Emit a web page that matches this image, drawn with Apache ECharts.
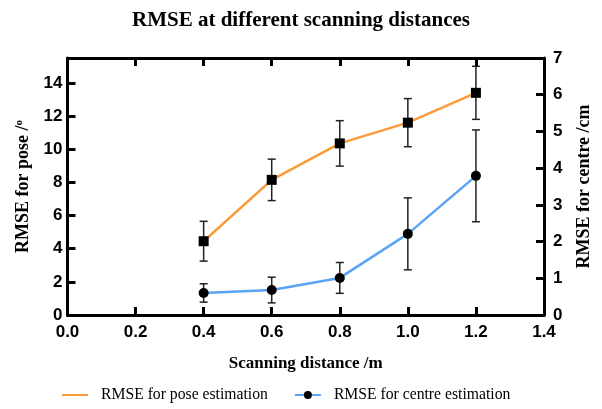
<!DOCTYPE html>
<html><head><meta charset="utf-8">
<script src="https://cdn.jsdelivr.net/npm/echarts@6/dist/echarts.min.js"></script>
<style>html,body{margin:0;padding:0;background:#fff}#c{width:602px;height:409px}</style>
</head><body><div id="c"></div>
<script>
const distances = [0.4, 0.6, 0.8, 1.0, 1.2];
const poseRMSE = [4.45, 8.15, 10.35, 11.6, 13.4];
const poseErr = [1.2, 1.25, 1.37, 1.45, 1.6];
const centreRMSE = [0.6, 0.68, 1.01, 2.21, 3.79];
const centreErr = [0.25, 0.35, 0.42, 0.98, 1.25];
const xTicks = [0.0, 0.2, 0.4, 0.6, 0.8, 1.0, 1.2, 1.4];
const poseName = 'RMSE for pose estimation';
const centreName = 'RMSE for centre estimation';

const chart = echarts.init(document.getElementById('c'), null, {renderer: 'canvas'});
const sans = 'Liberation Sans';
const serif = 'Liberation Serif';
const mkLine = () => ({show: true, onZero: false, lineStyle: {color: '#000', width: 3}});
const mkTick = () => ({show: true, inside: true, length: 8, lineStyle: {color: '#000', width: 3}});
const labelStyle = () => ({color: '#000', fontFamily: sans, fontWeight: 'bold', fontSize: 17});

function errRender(params, api) {
  const x = api.value(0), lo = api.value(1), hi = api.value(2);
  const pLo = api.coord([x, lo]);
  const pHi = api.coord([x, hi]);
  const cap = 4;
  const style = {stroke: '#222', lineWidth: 1.5};
  return {type: 'group', children: [
    {type: 'line', shape: {x1: pLo[0], y1: pLo[1], x2: pHi[0], y2: pHi[1]}, style},
    {type: 'line', shape: {x1: pLo[0]-cap, y1: pLo[1], x2: pLo[0]+cap, y2: pLo[1]}, style},
    {type: 'line', shape: {x1: pHi[0]-cap, y1: pHi[1], x2: pHi[0]+cap, y2: pHi[1]}, style}
  ]};
}

chart.setOption({
  animation: false,
  backgroundColor: '#fff',
  title: {
    text: 'RMSE at different scanning distances',
    left: 'center', top: 5,
    textStyle: {fontFamily: serif, fontWeight: 'bold', fontSize: 21, color: '#000'}
  },
  legend: {
    bottom: 1, left: 56,
    itemWidth: 26, itemHeight: 10, itemGap: 26,
    textStyle: {fontFamily: serif, fontSize: 15.7, color: '#000', padding: [0, 0, 0, 8]},
    data: [
      {name: poseName, itemStyle: {opacity: 0}},
      {name: centreName}
    ]
  },
  grid: {left: 67.5, right: 58, top: 58, bottom: 94},
  xAxis: [
    {type: 'value', position: 'bottom', min: 0, max: 1.4, interval: 0.2,
     axisLine: mkLine(), axisTick: mkTick(), splitLine: {show: false},
     axisLabel: Object.assign({margin: 9, formatter: v => v.toFixed(1)}, labelStyle()),
     name: 'Scanning distance /m', nameLocation: 'middle', nameGap: 40,
     nameTextStyle: {fontFamily: serif, fontWeight: 'bold', fontSize: 17, color: '#000'}},
    {type: 'value', position: 'top', min: 0, max: 1.4, interval: 0.2,
     axisLine: mkLine(), axisTick: mkTick(), splitLine: {show: false}, axisLabel: {show: false}}
  ],
  yAxis: [
    {type: 'value', position: 'left', min: 0, max: 15.5, interval: 2,
     axisLine: mkLine(), axisTick: mkTick(), splitLine: {show: false},
     axisLabel: Object.assign({margin: 5, showMaxLabel: false}, labelStyle()),
     name: 'RMSE for pose /{s|o}', nameLocation: 'middle', nameGap: 35, nameRotate: 90,
     nameTextStyle: {fontFamily: serif, fontWeight: 'bold', fontSize: 18, color: '#000',
       rich: {s: {fontFamily: serif, fontSize: 11, color: '#000', verticalAlign: 'top', padding: [0,0,8,0]}}}},
    {type: 'value', position: 'right', min: 0, max: 7, interval: 1,
     axisLine: mkLine(), axisTick: mkTick(), splitLine: {show: false},
     axisLabel: Object.assign({margin: 9}, labelStyle()),
     name: 'RMSE for centre /cm', nameLocation: 'middle', nameGap: 31, nameRotate: 90,
     nameTextStyle: {fontFamily: serif, fontWeight: 'bold', fontSize: 18, color: '#000'}}
  ],
  series: [
    {type: 'custom', name: 'poseErr', xAxisIndex: 0, yAxisIndex: 0, z: 1,
     renderItem: errRender, encode: {x: 0, y: [1, 2]},
     data: distances.map((d, i) => [d, poseRMSE[i] - poseErr[i], poseRMSE[i] + poseErr[i]])},
    {type: 'custom', name: 'centreErr', xAxisIndex: 0, yAxisIndex: 1, z: 1,
     renderItem: errRender, encode: {x: 0, y: [1, 2]},
     data: distances.map((d, i) => [d, centreRMSE[i] - centreErr[i], centreRMSE[i] + centreErr[i]])},
    {type: 'line', name: poseName, xAxisIndex: 0, yAxisIndex: 0, z: 3,
     data: distances.map((d, i) => [d, poseRMSE[i]]),
     symbol: 'rect', symbolSize: 10, itemStyle: {color: '#000'},
     lineStyle: {color: '#F99C38', width: 2.5}},
    {type: 'line', name: centreName, xAxisIndex: 0, yAxisIndex: 1, z: 3,
     data: distances.map((d, i) => [d, centreRMSE[i]]),
     symbol: 'circle', symbolSize: 10, itemStyle: {color: '#000'},
     lineStyle: {color: '#5BA4F5', width: 2.5}}
  ]
});
</script></body></html>
